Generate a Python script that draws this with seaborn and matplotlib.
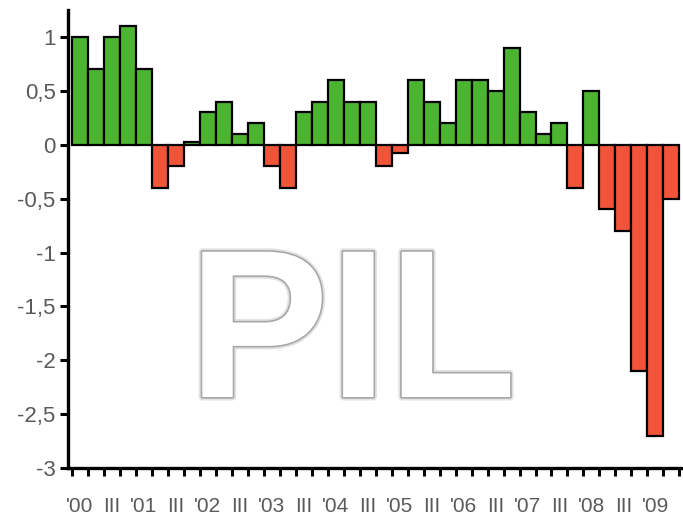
import numpy as np
import pandas as pd
import matplotlib as mpl
from matplotlib import pyplot as plt
import matplotlib.patheffects as pe
import seaborn as sns

sns.set_style('white')
plt.rcParams['font.family'] = ['Liberation Sans', 'DejaVu Sans']

# quarterly GDP change, '00 Q1 .. '09 Q2
values = [1.0, 0.7, 1.0, 1.1,
          0.7, -0.4, -0.2, 0.03,
          0.3, 0.4, 0.1, 0.2,
          -0.2, -0.4, 0.3, 0.4,
          0.6, 0.4, 0.4, -0.2,
          -0.08, 0.6, 0.4, 0.2,
          0.6, 0.6, 0.5, 0.9,
          0.3, 0.1, 0.2, -0.4,
          0.5, -0.6, -0.8, -2.1,
          -2.7, -0.5]
years = ["'00", "'01", "'02", "'03", "'04", "'05", "'06", "'07", "'08", "'09"]
yticks = [-3, -2.5, -2, -1.5, -1, -0.5, 0, 0.5, 1]

df = pd.DataFrame({'q': range(len(values)), 'pil': values})
df['sign'] = np.where(df['pil'] >= 0, 'pos', 'neg')

fig = plt.figure(figsize=(6.83, 5.21), dpi=100)
ax = fig.add_axes([0.0996, 0.1017, 0.8974, 0.879])

g = sns.barplot(data=df, x='q', y='pil', hue='sign', dodge=False, width=1.0,
                palette={'pos': '#4db432', 'neg': '#f0553a'}, saturation=1,
                edgecolor='black', linewidth=1.6, legend=False, ax=ax, zorder=3)

ax.set_xlim(-0.75, 37.6)
ax.set_ylim(-3, 1.25)
ax.set_xlabel('')
ax.set_ylabel('')

ax.set_yticks(yticks)
ax.set_yticklabels([f"{v:g}".replace('.', ',') for v in yticks],
                   fontsize=16, color='#5a5a5a')

# tick marks between bars, labels every half year
ax.set_xticks(np.arange(-0.5, len(values), 1.0))
ax.set_xticklabels([])
labels = []
for y in years:
    labels += [y, 'III']
pos = np.arange(0, len(values), 2)
ax.set_xticks(pos, minor=True)
ax.set_xticklabels(labels[:len(pos)], minor=True, fontsize=15, color='#5a5a5a',
                   family=['Liberation Sans Narrow', 'Liberation Sans', 'DejaVu Sans'])
ax.tick_params(axis='x', which='minor', bottom=True, length=0, pad=21)
ax.tick_params(axis='x', which='major', bottom=True, length=6, width=2.2,
               color='black', direction='out')
ax.tick_params(axis='y', length=6, width=2.2, color='black', direction='out', left=True, pad=3)

for s in ['top', 'right']:
    ax.spines[s].set_visible(False)
for s in ['left', 'bottom']:
    ax.spines[s].set_color('black')
    ax.spines[s].set_linewidth(2.4)

fig.text(0.516, 0.238, 'PIL', fontsize=152, fontweight='bold', color='white',
         ha='center', va='baseline', zorder=0,
         path_effects=[pe.Stroke(linewidth=5, foreground='#e2e2e2', joinstyle='round'),
                       pe.Stroke(linewidth=2.4, foreground='#a8a8a8', joinstyle='round'),
                       pe.Normal()])

fig.savefig('out.png', dpi=100)
